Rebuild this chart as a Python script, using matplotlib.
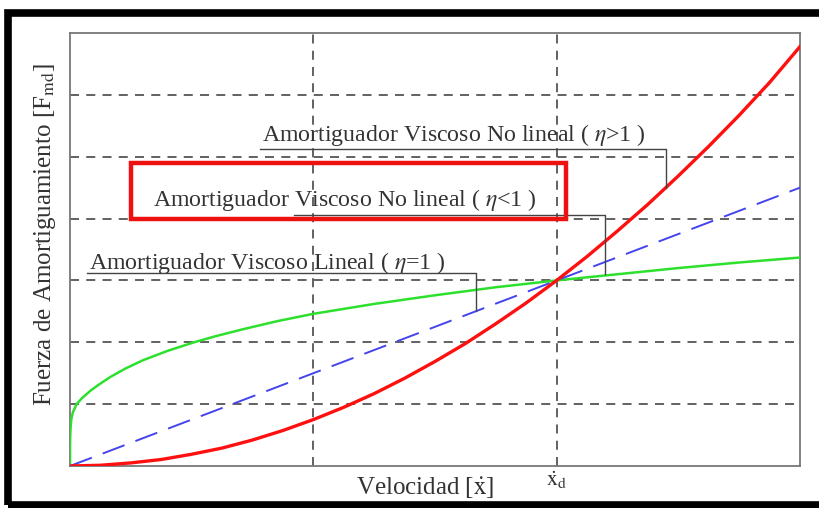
import matplotlib
matplotlib.use('Agg')
import matplotlib.pyplot as plt
from matplotlib.patches import Rectangle

plt.rcParams['font.family'] = ['Liberation Serif', 'DejaVu Serif']
plt.rcParams['mathtext.fontset'] = 'stix'

# Curves (velocity, damping force)
x_red = [0, 0.125, 0.25, 0.375, 0.5, 0.625, 0.75, 0.875, 1.0, 1.125, 1.25, 1.375,
         1.5, 1.625, 1.75, 1.875, 2.0, 2.125, 2.25, 2.375, 2.5, 2.625, 2.75, 2.875, 3.0]
y_red = [0, 0.012, 0.05, 0.105, 0.19, 0.29, 0.42, 0.574, 0.75, 0.949, 1.17, 1.418,
         1.69, 1.98, 2.30, 2.637, 3.0, 3.387, 3.80, 4.23, 4.69, 5.168, 5.67, 6.2, 6.78]

x_blue = [0, 1.0, 2.0, 3.0]
y_blue = [0, 1.5, 3.0, 4.5]

x_green = [0, 0.0003, 0.001, 0.003, 0.006, 0.012, 0.027, 0.05, 0.085, 0.12, 0.166,
           0.23, 0.30, 0.4, 0.51, 0.6, 0.71, 0.85, 1.0, 1.25,
           1.5, 1.75, 2.0, 2.25, 2.5, 2.75, 3.0]
y_green = [0, 0.35, 0.5, 0.66, 0.77, 0.87, 1.0, 1.1, 1.22, 1.32, 1.44,
           1.58, 1.71, 1.86, 2.0, 2.1, 2.21, 2.34, 2.46, 2.62,
           2.76, 2.89, 3.0, 3.10, 3.20, 3.29, 3.37]

x_grid = [1, 2]
y_grid = [1, 2, 3, 4, 5, 6]

labels = ['Amortiguador Viscoso No lineal ( $\\eta$>1 )',
          'Amortiguador Viscoso No lineal ( $\\eta$<1 )',
          'Amortiguador Viscoso Lineal ( $\\eta$=1 )']

fig = plt.figure(figsize=(8.2, 5.08), dpi=100)
ax = fig.add_axes([70 / 820, 42 / 508, 730 / 820, 433 / 508])

for gx in x_grid:
    ax.axvline(gx, color='#555555', lw=1.3, ls=(0, (5, 4)), zorder=1)
for gy in y_grid:
    ax.axhline(gy, color='#555555', lw=1.3, ls=(0, (5, 4)), zorder=1)

ax.plot(x_green, y_green, color='#2ee02e', lw=1.8, zorder=3)
ax.plot(x_blue, y_blue, color='#4444ee', lw=1.4, dashes=(12, 6), zorder=3)
ax.plot(x_red, y_red, color='#ff1010', lw=2.4, zorder=4)

ax.set_xlim(0, 3)
ax.set_ylim(0, 7)
ax.set_xticks([2])
ax.set_xticklabels(['$\\dot{\\mathrm{x}}_{\\mathrm{d}}$'], fontsize=16, color='#333333')
ax.set_yticks([])
ax.tick_params(axis='x', length=0, pad=2)
for s in ax.spines.values():
    s.set_color('#777777')
    s.set_linewidth(1.3)

ax.set_xlabel('Velocidad [$\\dot{\\mathrm{x}}$]', fontsize=18, color='#333333', va='center')
ax.xaxis.set_label_coords((425 - 70) / 730, (508 - 488 - 42) / 433)
ax.set_ylabel('Fuerza de Amortiguamiento [F$_{\\mathrm{md}}$]', fontsize=18,
              color='#333333', va='center')
ax.yaxis.set_label_coords((45 - 70) / 730, (508 - 235 - 42) / 433)

# annotations with leader lines
tc = '#333333'
lc = '#444444'
fs = 17.2
ax.text(0.79, 5.35, labels[0], fontsize=fs, color=tc, va='center', ha='left')
ax.plot([0.78, 2.45, 2.45], [5.12, 5.12, 4.49], color=lc, lw=1.0, zorder=5)

ax.text(0.34, 4.30, labels[1], fontsize=fs, color=tc, va='center', ha='left')
ax.plot([0.92, 2.2, 2.2], [4.05, 4.05, 3.1], color=lc, lw=1.0, zorder=5)
ax.add_patch(Rectangle((0.25, 4.0), 1.79, 0.9, fill=False, edgecolor='#ee1111',
                       lw=3.2, zorder=6))

ax.text(0.08, 3.28, labels[2], fontsize=fs, color=tc, va='center', ha='left')
ax.plot([0.07, 1.67, 1.67], [3.12, 3.12, 2.5], color=lc, lw=1.0, zorder=5)

# outer black frame
fig.patches.append(Rectangle((8 / 820, 3 / 508), 1.2, 492 / 508, fill=False,
                             edgecolor='black', lw=5.5, transform=fig.transFigure))

fig.savefig('out.png', dpi=100)
